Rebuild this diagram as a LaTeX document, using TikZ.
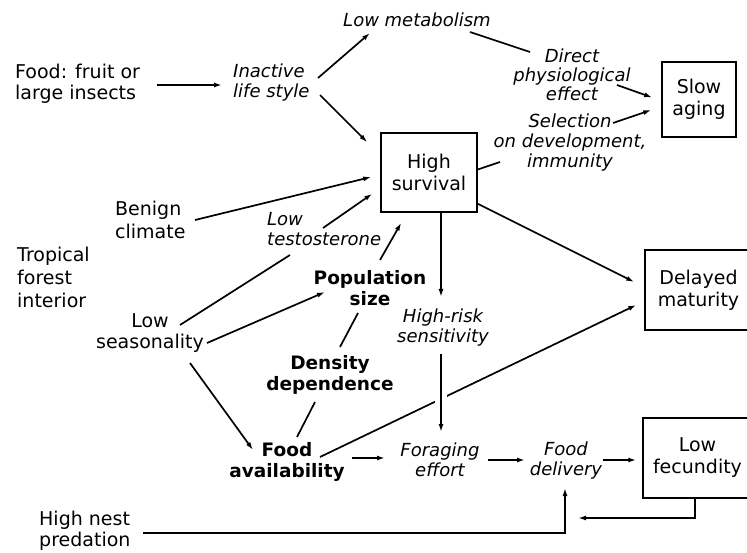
\documentclass[tikz,border=0pt]{standalone}
\usepackage{fontspec}
\setmainfont{DejaVu Sans}
\usetikzlibrary{arrows.meta,calc}
\begin{document}
\begin{tikzpicture}[x=1pt,y=-1pt,
  lbl/.style={inner sep=0pt, font=\fontsize{19}{21}\selectfont, align=center},
  itl/.style={inner sep=0pt, font=\fontsize{18}{20}\selectfont\itshape, align=center},
  bld/.style={inner sep=0pt, font=\fontsize{18.5}{21.5}\selectfont\bfseries, align=center},
  boxnode/.style={draw, line width=1.5pt, inner sep=0pt, font=\fontsize{19}{22}\selectfont, align=center},
  arr/.style={line width=1.7pt, -{Latex[length=8pt,width=5pt]}},
  ln/.style={line width=1.7pt}]
\fill[white] (0,0) rectangle (747,553);
\useasboundingbox (0,0) rectangle (747,553);

% nodes
\node[lbl, align=left, anchor=west] (food) at (15,84) {Food: fruit or\\large insects};
\node[itl, align=left, anchor=west] (inactive) at (233,83) {Inactive\\life style};
\node[itl] (lowmet) at (417,20) {Low metabolism};
\node[itl, font=\fontsize{18}{19}\selectfont\itshape] (direct) at (572,75) {Direct\\physiological\\effect};
\node[itl] (select) at (570,143) {Selection\\on development,\\immunity};
\node[boxnode, minimum width=74pt, minimum height=75pt] (slow) at (699,99.5) {Slow\\aging};
\node[boxnode, minimum width=96pt, minimum height=79pt] (hs) at (429,172.5) {High\\survival};
\node[lbl, align=left, anchor=west, font=\fontsize{19}{23}\selectfont] (benign) at (115,220) {Benign\\climate};
\node[itl, align=left, anchor=west] (lowtest) at (267,229) {Low\\testosterone};
\node[lbl, align=left, anchor=west, font=\fontsize{19}{23}\selectfont] (tropical) at (17,277) {Tropical\\forest\\interior};
\node[lbl] (lowseas) at (150,333) {Low\\seasonality};
\node[bld] (pop) at (370,288) {Population\\size};
\node[bld] (dens) at (330,375) {Density\\dependence};
\node[bld] (foodav) at (287,462) {Food\\availability};
\node[itl] (hrs) at (443,328) {High-risk\\sensitivity};
\node[boxnode, minimum width=107pt, minimum height=80pt] (delayed) at (698.5,290) {Delayed\\maturity};
\node[itl] (forag) at (440,460) {Foraging\\effort};
\node[itl] (fdel) at (566,461) {Food\\delivery};
\node[boxnode, minimum width=109pt, minimum height=80pt] (lowfec) at (697.5,458) {Low\\fecundity};
\node[lbl, align=left, anchor=west] (nest) at (39,531) {High nest\\predation};

% connectors
\draw[arr] ($(food.west)+(142,1)$) -- ($(inactive.west)+(-11,2)$);
\draw[arr] ($(inactive.west)+(85,-5)$) -- ($(lowmet.center)+(-47,13)$);
\draw[arr] ($(inactive.west)+(87,12)$) -- ($(hs.north west)+(-13,10)$);
\draw[ln] ($(lowmet.center)+(53,12)$) -- ($(direct.center)+(-42,-23)$);
\draw[arr] ($(direct.center)+(45,10)$) -- ($(slow.west)+(-9,-2)$);
\draw[arr] ($(select.center)+(43,-20)$) -- ($(slow.west)+(-10,10.5)$);
\draw[ln] ($(hs.east)+(0,-3)$) -- ($(select.center)+(-70,19)$);
\draw[arr] ($(benign.west)+(80,0)$) -- ($(hs.west)+(-9,4.5)$);
\draw[ln] ($(lowseas.center)+(30,-8)$) -- ($(lowtest.west)+(23,26)$);
\draw[arr] ($(lowtest.west)+(56,-1)$) -- ($(hs.south west)+(-8,-19)$);
\draw[arr] ($(lowseas.center)+(57,10)$) -- ($(pop.center)+(-45,4)$);
\draw[arr] ($(pop.center)+(10,-28)$) -- ($(hs.south west)+(21,10)$);
\draw[ln] ($(pop.center)+(-12,25)$) -- ($(dens.center)+(10,-28)$);
\draw[arr] ($(lowseas.center)+(40,30)$) -- ($(foodav.center)+(-34,-12)$);
\draw[ln] ($(dens.center)+(-15,27)$) -- ($(foodav.center)+(10,-25)$);
\draw[arr] ($(foodav.center)+(65,-4)$) -- ($(forag.center)+(-55,-2)$);
\draw[arr] ($(foodav.center)+(33,-5)$) -- ($(delayed.west)+(-8,15)$);
\draw[arr] ($(hs.south)+(12,0)$) -- ($(hrs.center)+(-2,-31)$);
\draw[arr] ($(hs.south east)+(0,-9)$) -- ($(delayed.west)+(-10,-8)$);
\draw[arr, preaction={draw=white, line width=12pt, -}] ($(hrs.center)+(-2,26)$) -- ($(forag.center)+(1,-28)$);
\draw[arr] ($(forag.center)+(48,0)$) -- ($(fdel.center)+(-41,-1)$);
\draw[arr] ($(fdel.center)+(37,-1)$) -- ($(lowfec.west)+(-6,2)$);
\draw[arr] ($(lowfec.south)+(-2.5,0)$) |- ($(fdel.center)+(12,57)$);
\draw[arr] ($(nest.west)+(104,2)$) -| ($(fdel.center)+(-1,27)$);
\end{tikzpicture}
\end{document}
